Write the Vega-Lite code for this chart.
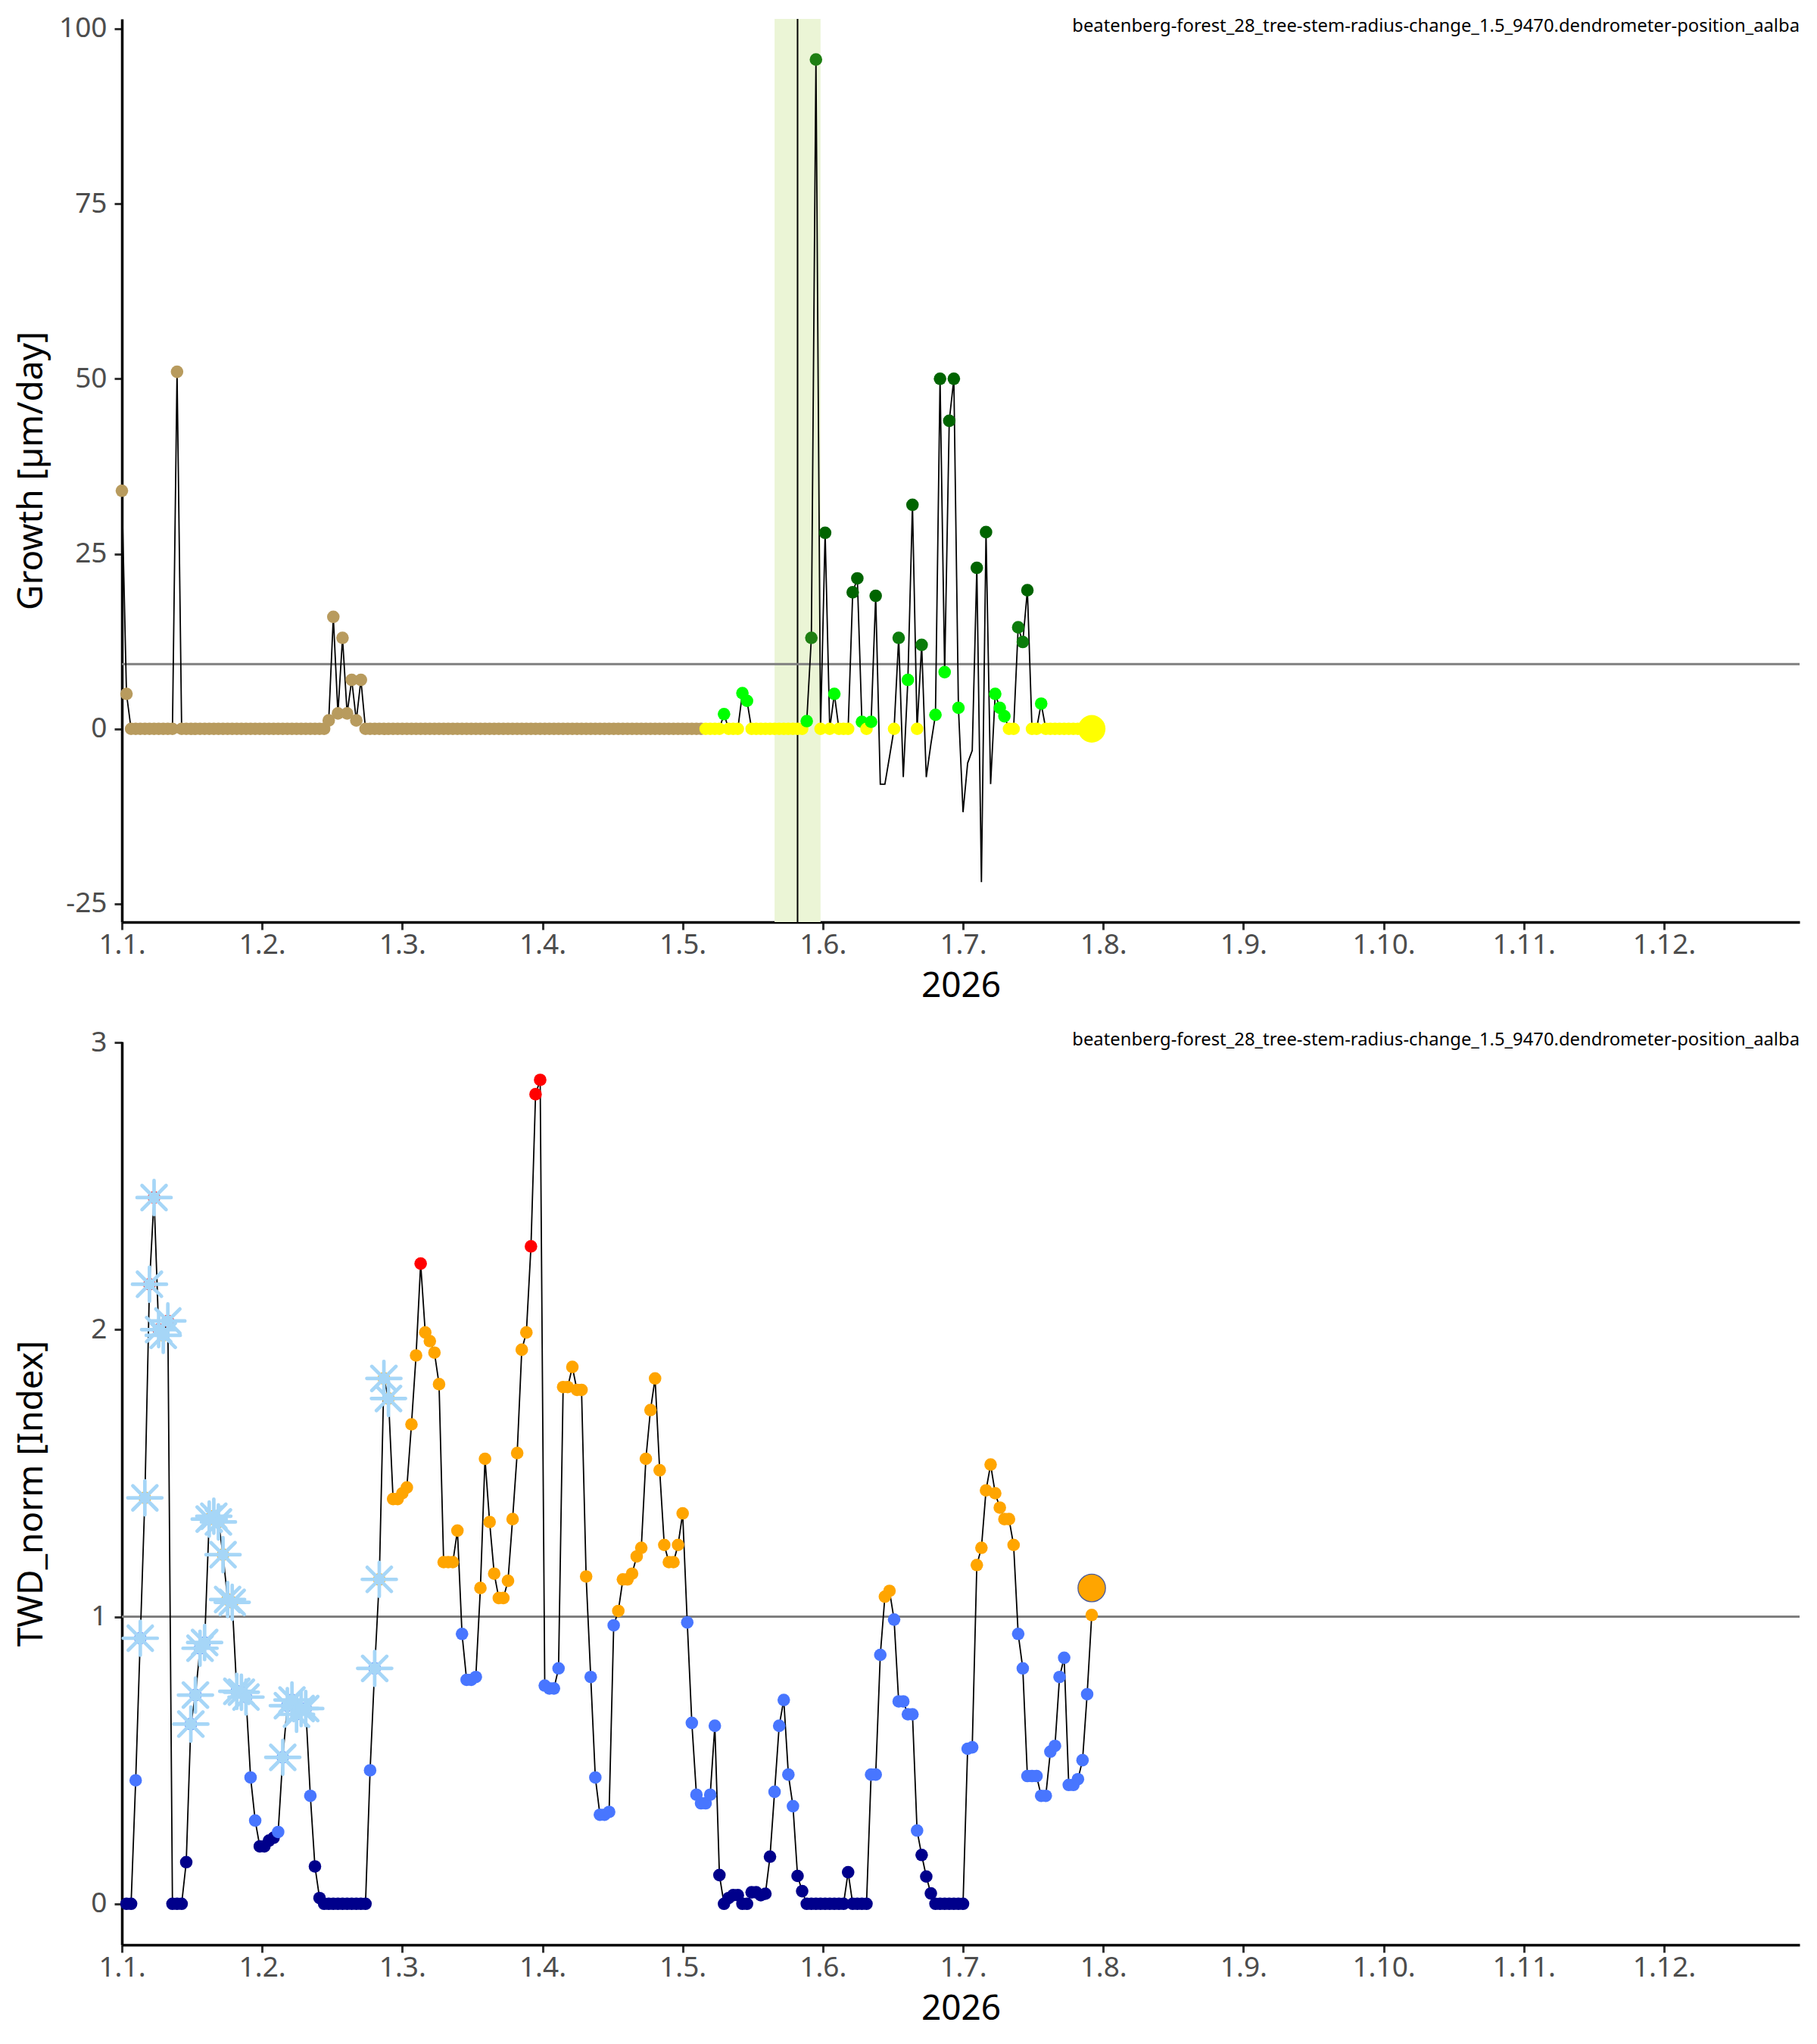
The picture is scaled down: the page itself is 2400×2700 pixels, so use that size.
{
  "$schema": "https://vega.github.io/schema/vega-lite/v6.json",
  "background": "white",
  "padding": {"left": 18, "right": 23, "top": 18, "bottom": 8},
  "spacing": 33,
  "config": {
    "font": "Noto Sans",
    "view": {"stroke": null},
    "axis": {
      "grid": false,
      "domainColor": "black",
      "domainWidth": 3.5,
      "tickColor": "#333333",
      "tickWidth": 3,
      "tickSize": 10,
      "labelColor": "#4d4d4d",
      "labelFont": "Noto Sans",
      "labelFontSize": 37,
      "labelPadding": 6,
      "labelFlush": false,
      "titleFont": "Noto Sans",
      "titleFontSize": 46,
      "titleFontWeight": "normal",
      "titleColor": "black"
    },
    "axisX": {"labelPadding": 2, "titlePadding": 14},
    "axisY": {"labelPadding": 10, "titleX": -106, "titleBaseline": "alphabetic", "labelExpr": "'' + datum.value"},
    "title": {"font": "Noto Sans", "fontSize": 23.8, "fontWeight": "normal", "color": "black", "anchor": "end", "frame": "group", "offset": -28}
  },
  "datasets": {
    "growth": [
      {"date": "2026-01-01", "growth": 34, "phase": "dormant"},
      {"date": "2026-01-02", "growth": 5, "phase": "dormant"},
      {"date": "2026-01-03", "growth": 0, "phase": "dormant"},
      {"date": "2026-01-04", "growth": 0, "phase": "dormant"},
      {"date": "2026-01-05", "growth": 0, "phase": "dormant"},
      {"date": "2026-01-06", "growth": 0, "phase": "dormant"},
      {"date": "2026-01-07", "growth": 0, "phase": "dormant"},
      {"date": "2026-01-08", "growth": 0, "phase": "dormant"},
      {"date": "2026-01-09", "growth": 0, "phase": "dormant"},
      {"date": "2026-01-10", "growth": 0, "phase": "dormant"},
      {"date": "2026-01-11", "growth": 0, "phase": "dormant"},
      {"date": "2026-01-12", "growth": 0, "phase": "dormant"},
      {"date": "2026-01-13", "growth": 51, "phase": "dormant"},
      {"date": "2026-01-14", "growth": 0, "phase": "dormant"},
      {"date": "2026-01-15", "growth": 0, "phase": "dormant"},
      {"date": "2026-01-16", "growth": 0, "phase": "dormant"},
      {"date": "2026-01-17", "growth": 0, "phase": "dormant"},
      {"date": "2026-01-18", "growth": 0, "phase": "dormant"},
      {"date": "2026-01-19", "growth": 0, "phase": "dormant"},
      {"date": "2026-01-20", "growth": 0, "phase": "dormant"},
      {"date": "2026-01-21", "growth": 0, "phase": "dormant"},
      {"date": "2026-01-22", "growth": 0, "phase": "dormant"},
      {"date": "2026-01-23", "growth": 0, "phase": "dormant"},
      {"date": "2026-01-24", "growth": 0, "phase": "dormant"},
      {"date": "2026-01-25", "growth": 0, "phase": "dormant"},
      {"date": "2026-01-26", "growth": 0, "phase": "dormant"},
      {"date": "2026-01-27", "growth": 0, "phase": "dormant"},
      {"date": "2026-01-28", "growth": 0, "phase": "dormant"},
      {"date": "2026-01-29", "growth": 0, "phase": "dormant"},
      {"date": "2026-01-30", "growth": 0, "phase": "dormant"},
      {"date": "2026-01-31", "growth": 0, "phase": "dormant"},
      {"date": "2026-02-01", "growth": 0, "phase": "dormant"},
      {"date": "2026-02-02", "growth": 0, "phase": "dormant"},
      {"date": "2026-02-03", "growth": 0, "phase": "dormant"},
      {"date": "2026-02-04", "growth": 0, "phase": "dormant"},
      {"date": "2026-02-05", "growth": 0, "phase": "dormant"},
      {"date": "2026-02-06", "growth": 0, "phase": "dormant"},
      {"date": "2026-02-07", "growth": 0, "phase": "dormant"},
      {"date": "2026-02-08", "growth": 0, "phase": "dormant"},
      {"date": "2026-02-09", "growth": 0, "phase": "dormant"},
      {"date": "2026-02-10", "growth": 0, "phase": "dormant"},
      {"date": "2026-02-11", "growth": 0, "phase": "dormant"},
      {"date": "2026-02-12", "growth": 0, "phase": "dormant"},
      {"date": "2026-02-13", "growth": 0, "phase": "dormant"},
      {"date": "2026-02-14", "growth": 0, "phase": "dormant"},
      {"date": "2026-02-15", "growth": 1.2, "phase": "dormant"},
      {"date": "2026-02-16", "growth": 16, "phase": "dormant"},
      {"date": "2026-02-17", "growth": 2.2, "phase": "dormant"},
      {"date": "2026-02-18", "growth": 13, "phase": "dormant"},
      {"date": "2026-02-19", "growth": 2.2, "phase": "dormant"},
      {"date": "2026-02-20", "growth": 7, "phase": "dormant"},
      {"date": "2026-02-21", "growth": 1.2, "phase": "dormant"},
      {"date": "2026-02-22", "growth": 7, "phase": "dormant"},
      {"date": "2026-02-23", "growth": 0, "phase": "dormant"},
      {"date": "2026-02-24", "growth": 0, "phase": "dormant"},
      {"date": "2026-02-25", "growth": 0, "phase": "dormant"},
      {"date": "2026-02-26", "growth": 0, "phase": "dormant"},
      {"date": "2026-02-27", "growth": 0, "phase": "dormant"},
      {"date": "2026-02-28", "growth": 0, "phase": "dormant"},
      {"date": "2026-03-01", "growth": 0, "phase": "dormant"},
      {"date": "2026-03-02", "growth": 0, "phase": "dormant"},
      {"date": "2026-03-03", "growth": 0, "phase": "dormant"},
      {"date": "2026-03-04", "growth": 0, "phase": "dormant"},
      {"date": "2026-03-05", "growth": 0, "phase": "dormant"},
      {"date": "2026-03-06", "growth": 0, "phase": "dormant"},
      {"date": "2026-03-07", "growth": 0, "phase": "dormant"},
      {"date": "2026-03-08", "growth": 0, "phase": "dormant"},
      {"date": "2026-03-09", "growth": 0, "phase": "dormant"},
      {"date": "2026-03-10", "growth": 0, "phase": "dormant"},
      {"date": "2026-03-11", "growth": 0, "phase": "dormant"},
      {"date": "2026-03-12", "growth": 0, "phase": "dormant"},
      {"date": "2026-03-13", "growth": 0, "phase": "dormant"},
      {"date": "2026-03-14", "growth": 0, "phase": "dormant"},
      {"date": "2026-03-15", "growth": 0, "phase": "dormant"},
      {"date": "2026-03-16", "growth": 0, "phase": "dormant"},
      {"date": "2026-03-17", "growth": 0, "phase": "dormant"},
      {"date": "2026-03-18", "growth": 0, "phase": "dormant"},
      {"date": "2026-03-19", "growth": 0, "phase": "dormant"},
      {"date": "2026-03-20", "growth": 0, "phase": "dormant"},
      {"date": "2026-03-21", "growth": 0, "phase": "dormant"},
      {"date": "2026-03-22", "growth": 0, "phase": "dormant"},
      {"date": "2026-03-23", "growth": 0, "phase": "dormant"},
      {"date": "2026-03-24", "growth": 0, "phase": "dormant"},
      {"date": "2026-03-25", "growth": 0, "phase": "dormant"},
      {"date": "2026-03-26", "growth": 0, "phase": "dormant"},
      {"date": "2026-03-27", "growth": 0, "phase": "dormant"},
      {"date": "2026-03-28", "growth": 0, "phase": "dormant"},
      {"date": "2026-03-29", "growth": 0, "phase": "dormant"},
      {"date": "2026-03-30", "growth": 0, "phase": "dormant"},
      {"date": "2026-03-31", "growth": 0, "phase": "dormant"},
      {"date": "2026-04-01", "growth": 0, "phase": "dormant"},
      {"date": "2026-04-02", "growth": 0, "phase": "dormant"},
      {"date": "2026-04-03", "growth": 0, "phase": "dormant"},
      {"date": "2026-04-04", "growth": 0, "phase": "dormant"},
      {"date": "2026-04-05", "growth": 0, "phase": "dormant"},
      {"date": "2026-04-06", "growth": 0, "phase": "dormant"},
      {"date": "2026-04-07", "growth": 0, "phase": "dormant"},
      {"date": "2026-04-08", "growth": 0, "phase": "dormant"},
      {"date": "2026-04-09", "growth": 0, "phase": "dormant"},
      {"date": "2026-04-10", "growth": 0, "phase": "dormant"},
      {"date": "2026-04-11", "growth": 0, "phase": "dormant"},
      {"date": "2026-04-12", "growth": 0, "phase": "dormant"},
      {"date": "2026-04-13", "growth": 0, "phase": "dormant"},
      {"date": "2026-04-14", "growth": 0, "phase": "dormant"},
      {"date": "2026-04-15", "growth": 0, "phase": "dormant"},
      {"date": "2026-04-16", "growth": 0, "phase": "dormant"},
      {"date": "2026-04-17", "growth": 0, "phase": "dormant"},
      {"date": "2026-04-18", "growth": 0, "phase": "dormant"},
      {"date": "2026-04-19", "growth": 0, "phase": "dormant"},
      {"date": "2026-04-20", "growth": 0, "phase": "dormant"},
      {"date": "2026-04-21", "growth": 0, "phase": "dormant"},
      {"date": "2026-04-22", "growth": 0, "phase": "dormant"},
      {"date": "2026-04-23", "growth": 0, "phase": "dormant"},
      {"date": "2026-04-24", "growth": 0, "phase": "dormant"},
      {"date": "2026-04-25", "growth": 0, "phase": "dormant"},
      {"date": "2026-04-26", "growth": 0, "phase": "dormant"},
      {"date": "2026-04-27", "growth": 0, "phase": "dormant"},
      {"date": "2026-04-28", "growth": 0, "phase": "dormant"},
      {"date": "2026-04-29", "growth": 0, "phase": "dormant"},
      {"date": "2026-04-30", "growth": 0, "phase": "dormant"},
      {"date": "2026-05-01", "growth": 0, "phase": "dormant"},
      {"date": "2026-05-02", "growth": 0, "phase": "dormant"},
      {"date": "2026-05-03", "growth": 0, "phase": "dormant"},
      {"date": "2026-05-04", "growth": 0, "phase": "dormant"},
      {"date": "2026-05-05", "growth": 0, "phase": "dormant"},
      {"date": "2026-05-06", "growth": 0, "phase": "dormant"},
      {"date": "2026-05-07", "growth": 0, "phase": "dormant"},
      {"date": "2026-05-08", "growth": 0, "phase": "none"},
      {"date": "2026-05-09", "growth": 0, "phase": "none"},
      {"date": "2026-05-10", "growth": 0, "phase": "none"},
      {"date": "2026-05-11", "growth": 0, "phase": "none"},
      {"date": "2026-05-12", "growth": 2.1, "phase": "low"},
      {"date": "2026-05-13", "growth": 0, "phase": "none"},
      {"date": "2026-05-14", "growth": 0, "phase": "none"},
      {"date": "2026-05-15", "growth": 0, "phase": "none"},
      {"date": "2026-05-16", "growth": 5.1, "phase": "low"},
      {"date": "2026-05-17", "growth": 4.0, "phase": "low"},
      {"date": "2026-05-18", "growth": 0, "phase": "none"},
      {"date": "2026-05-19", "growth": 0, "phase": "none"},
      {"date": "2026-05-20", "growth": 0, "phase": "none"},
      {"date": "2026-05-21", "growth": 0, "phase": "none"},
      {"date": "2026-05-22", "growth": 0, "phase": "none"},
      {"date": "2026-05-23", "growth": 0, "phase": "none"},
      {"date": "2026-05-24", "growth": 0, "phase": "none"},
      {"date": "2026-05-25", "growth": 0, "phase": "none"},
      {"date": "2026-05-26", "growth": 0, "phase": "none"},
      {"date": "2026-05-27", "growth": 0, "phase": "none"},
      {"date": "2026-05-28", "growth": 0, "phase": "none"},
      {"date": "2026-05-29", "growth": 0, "phase": "none"},
      {"date": "2026-05-30", "growth": 1.1, "phase": "low"},
      {"date": "2026-05-31", "growth": 13.0, "phase": "peak"},
      {"date": "2026-06-01", "growth": 95.6, "phase": "peak"},
      {"date": "2026-06-02", "growth": 0, "phase": "none"},
      {"date": "2026-06-03", "growth": 28, "phase": "high"},
      {"date": "2026-06-04", "growth": 0, "phase": "none"},
      {"date": "2026-06-05", "growth": 5.0, "phase": "low"},
      {"date": "2026-06-06", "growth": 0, "phase": "none"},
      {"date": "2026-06-07", "growth": 0, "phase": "none"},
      {"date": "2026-06-08", "growth": 0, "phase": "none"},
      {"date": "2026-06-09", "growth": 19.5, "phase": "high"},
      {"date": "2026-06-10", "growth": 21.5, "phase": "high"},
      {"date": "2026-06-11", "growth": 1.0, "phase": "low"},
      {"date": "2026-06-12", "growth": 0, "phase": "none"},
      {"date": "2026-06-13", "growth": 1.0, "phase": "low"},
      {"date": "2026-06-14", "growth": 19.0, "phase": "high"},
      {"date": "2026-06-15", "growth": -7.9, "phase": "shrink"},
      {"date": "2026-06-16", "growth": -7.9, "phase": "shrink"},
      {"date": "2026-06-17", "growth": -4.0, "phase": "shrink"},
      {"date": "2026-06-18", "growth": 0, "phase": "none"},
      {"date": "2026-06-19", "growth": 13.0, "phase": "mid"},
      {"date": "2026-06-20", "growth": -6.9, "phase": "shrink"},
      {"date": "2026-06-21", "growth": 7.0, "phase": "low"},
      {"date": "2026-06-22", "growth": 32.0, "phase": "high"},
      {"date": "2026-06-23", "growth": 0, "phase": "none"},
      {"date": "2026-06-24", "growth": 12.0, "phase": "mid"},
      {"date": "2026-06-25", "growth": -6.9, "phase": "shrink"},
      {"date": "2026-06-26", "growth": -2.2, "phase": "shrink"},
      {"date": "2026-06-27", "growth": 2.0, "phase": "low"},
      {"date": "2026-06-28", "growth": 50, "phase": "high"},
      {"date": "2026-06-29", "growth": 8.1, "phase": "low"},
      {"date": "2026-06-30", "growth": 44, "phase": "high"},
      {"date": "2026-07-01", "growth": 50, "phase": "high"},
      {"date": "2026-07-02", "growth": 3.0, "phase": "low"},
      {"date": "2026-07-03", "growth": -11.9, "phase": "shrink"},
      {"date": "2026-07-04", "growth": -4.9, "phase": "shrink"},
      {"date": "2026-07-05", "growth": -3.1, "phase": "shrink"},
      {"date": "2026-07-06", "growth": 23, "phase": "high"},
      {"date": "2026-07-07", "growth": -21.9, "phase": "shrink"},
      {"date": "2026-07-08", "growth": 28.1, "phase": "high"},
      {"date": "2026-07-09", "growth": -7.9, "phase": "shrink"},
      {"date": "2026-07-10", "growth": 5.0, "phase": "low"},
      {"date": "2026-07-11", "growth": 3.0, "phase": "low"},
      {"date": "2026-07-12", "growth": 1.8, "phase": "low"},
      {"date": "2026-07-13", "growth": 0, "phase": "none"},
      {"date": "2026-07-14", "growth": 0, "phase": "none"},
      {"date": "2026-07-15", "growth": 14.5, "phase": "mid"},
      {"date": "2026-07-16", "growth": 12.4, "phase": "mid"},
      {"date": "2026-07-17", "growth": 19.8, "phase": "high"},
      {"date": "2026-07-18", "growth": 0, "phase": "none"},
      {"date": "2026-07-19", "growth": 0, "phase": "none"},
      {"date": "2026-07-20", "growth": 3.6, "phase": "low"},
      {"date": "2026-07-21", "growth": 0, "phase": "none"},
      {"date": "2026-07-22", "growth": 0, "phase": "none"},
      {"date": "2026-07-23", "growth": 0, "phase": "none"},
      {"date": "2026-07-24", "growth": 0, "phase": "none"},
      {"date": "2026-07-25", "growth": 0, "phase": "none"},
      {"date": "2026-07-26", "growth": 0, "phase": "none"},
      {"date": "2026-07-27", "growth": 0, "phase": "none"},
      {"date": "2026-07-28", "growth": 0, "phase": "none"},
      {"date": "2026-07-29", "growth": 0, "phase": "none"},
      {"date": "2026-07-30", "growth": 0, "phase": "none"},
      {"date": "2026-07-31", "growth": 0, "phase": "none"}
    ],
    "twd": [
      {"date": "2026-01-02", "twd": 0},
      {"date": "2026-01-03", "twd": 0},
      {"date": "2026-01-04", "twd": 0.43},
      {"date": "2026-01-05", "twd": 0.925, "frost": true},
      {"date": "2026-01-06", "twd": 1.414, "frost": true},
      {"date": "2026-01-07", "twd": 2.158, "frost": true},
      {"date": "2026-01-08", "twd": 2.46, "frost": true},
      {"date": "2026-01-09", "twd": 2.0, "frost": true},
      {"date": "2026-01-10", "twd": 1.98, "frost": true},
      {"date": "2026-01-11", "twd": 2.03, "frost": true},
      {"date": "2026-01-12", "twd": 0},
      {"date": "2026-01-13", "twd": 0},
      {"date": "2026-01-14", "twd": 0},
      {"date": "2026-01-15", "twd": 0.145},
      {"date": "2026-01-16", "twd": 0.626, "frost": true},
      {"date": "2026-01-17", "twd": 0.727, "frost": true},
      {"date": "2026-01-18", "twd": 0.89, "frost": true},
      {"date": "2026-01-19", "twd": 0.91, "frost": true},
      {"date": "2026-01-20", "twd": 1.34, "frost": true},
      {"date": "2026-01-21", "twd": 1.35, "frost": true},
      {"date": "2026-01-22", "twd": 1.33, "frost": true},
      {"date": "2026-01-23", "twd": 1.216, "frost": true},
      {"date": "2026-01-24", "twd": 1.06, "frost": true},
      {"date": "2026-01-25", "twd": 1.05, "frost": true},
      {"date": "2026-01-26", "twd": 0.74, "frost": true},
      {"date": "2026-01-27", "twd": 0.737, "frost": true},
      {"date": "2026-01-28", "twd": 0.72, "frost": true},
      {"date": "2026-01-29", "twd": 0.44},
      {"date": "2026-01-30", "twd": 0.29},
      {"date": "2026-01-31", "twd": 0.2},
      {"date": "2026-02-01", "twd": 0.2},
      {"date": "2026-02-02", "twd": 0.22},
      {"date": "2026-02-03", "twd": 0.23},
      {"date": "2026-02-04", "twd": 0.25},
      {"date": "2026-02-05", "twd": 0.51, "frost": true},
      {"date": "2026-02-06", "twd": 0.69, "frost": true},
      {"date": "2026-02-07", "twd": 0.71, "frost": true},
      {"date": "2026-02-08", "twd": 0.66, "frost": true},
      {"date": "2026-02-09", "twd": 0.68, "frost": true},
      {"date": "2026-02-10", "twd": 0.68, "frost": true},
      {"date": "2026-02-11", "twd": 0.376},
      {"date": "2026-02-12", "twd": 0.13},
      {"date": "2026-02-13", "twd": 0.02},
      {"date": "2026-02-14", "twd": 0},
      {"date": "2026-02-15", "twd": 0},
      {"date": "2026-02-16", "twd": 0},
      {"date": "2026-02-17", "twd": 0},
      {"date": "2026-02-18", "twd": 0},
      {"date": "2026-02-19", "twd": 0},
      {"date": "2026-02-20", "twd": 0},
      {"date": "2026-02-21", "twd": 0},
      {"date": "2026-02-22", "twd": 0},
      {"date": "2026-02-23", "twd": 0},
      {"date": "2026-02-24", "twd": 0.465},
      {"date": "2026-02-25", "twd": 0.82, "frost": true},
      {"date": "2026-02-26", "twd": 1.13, "frost": true},
      {"date": "2026-02-27", "twd": 1.83, "frost": true},
      {"date": "2026-02-28", "twd": 1.76, "frost": true},
      {"date": "2026-03-01", "twd": 1.41},
      {"date": "2026-03-02", "twd": 1.41},
      {"date": "2026-03-03", "twd": 1.43},
      {"date": "2026-03-04", "twd": 1.45},
      {"date": "2026-03-05", "twd": 1.67},
      {"date": "2026-03-06", "twd": 1.91},
      {"date": "2026-03-07", "twd": 2.23},
      {"date": "2026-03-08", "twd": 1.99},
      {"date": "2026-03-09", "twd": 1.96},
      {"date": "2026-03-10", "twd": 1.92},
      {"date": "2026-03-11", "twd": 1.81},
      {"date": "2026-03-12", "twd": 1.19},
      {"date": "2026-03-13", "twd": 1.19},
      {"date": "2026-03-14", "twd": 1.19},
      {"date": "2026-03-15", "twd": 1.30},
      {"date": "2026-03-16", "twd": 0.94},
      {"date": "2026-03-17", "twd": 0.78},
      {"date": "2026-03-18", "twd": 0.78},
      {"date": "2026-03-19", "twd": 0.79},
      {"date": "2026-03-20", "twd": 1.10},
      {"date": "2026-03-21", "twd": 1.55},
      {"date": "2026-03-22", "twd": 1.33},
      {"date": "2026-03-23", "twd": 1.15},
      {"date": "2026-03-24", "twd": 1.065},
      {"date": "2026-03-25", "twd": 1.065},
      {"date": "2026-03-26", "twd": 1.125},
      {"date": "2026-03-27", "twd": 1.34},
      {"date": "2026-03-28", "twd": 1.57},
      {"date": "2026-03-29", "twd": 1.93},
      {"date": "2026-03-30", "twd": 1.99},
      {"date": "2026-03-31", "twd": 2.29},
      {"date": "2026-04-01", "twd": 2.82},
      {"date": "2026-04-02", "twd": 2.87},
      {"date": "2026-04-03", "twd": 0.76},
      {"date": "2026-04-04", "twd": 0.75},
      {"date": "2026-04-05", "twd": 0.75},
      {"date": "2026-04-06", "twd": 0.82},
      {"date": "2026-04-07", "twd": 1.80},
      {"date": "2026-04-08", "twd": 1.80},
      {"date": "2026-04-09", "twd": 1.87},
      {"date": "2026-04-10", "twd": 1.79},
      {"date": "2026-04-11", "twd": 1.79},
      {"date": "2026-04-12", "twd": 1.14},
      {"date": "2026-04-13", "twd": 0.79},
      {"date": "2026-04-14", "twd": 0.44},
      {"date": "2026-04-15", "twd": 0.31},
      {"date": "2026-04-16", "twd": 0.31},
      {"date": "2026-04-17", "twd": 0.32},
      {"date": "2026-04-18", "twd": 0.97},
      {"date": "2026-04-19", "twd": 1.02},
      {"date": "2026-04-20", "twd": 1.13},
      {"date": "2026-04-21", "twd": 1.13},
      {"date": "2026-04-22", "twd": 1.15},
      {"date": "2026-04-23", "twd": 1.21},
      {"date": "2026-04-24", "twd": 1.24},
      {"date": "2026-04-25", "twd": 1.55},
      {"date": "2026-04-26", "twd": 1.72},
      {"date": "2026-04-27", "twd": 1.83},
      {"date": "2026-04-28", "twd": 1.51},
      {"date": "2026-04-29", "twd": 1.25},
      {"date": "2026-04-30", "twd": 1.19},
      {"date": "2026-05-01", "twd": 1.19},
      {"date": "2026-05-02", "twd": 1.25},
      {"date": "2026-05-03", "twd": 1.36},
      {"date": "2026-05-04", "twd": 0.98},
      {"date": "2026-05-05", "twd": 0.63},
      {"date": "2026-05-06", "twd": 0.38},
      {"date": "2026-05-07", "twd": 0.35},
      {"date": "2026-05-08", "twd": 0.35},
      {"date": "2026-05-09", "twd": 0.38},
      {"date": "2026-05-10", "twd": 0.62},
      {"date": "2026-05-11", "twd": 0.10},
      {"date": "2026-05-12", "twd": 0},
      {"date": "2026-05-13", "twd": 0.02},
      {"date": "2026-05-14", "twd": 0.03},
      {"date": "2026-05-15", "twd": 0.03},
      {"date": "2026-05-16", "twd": 0},
      {"date": "2026-05-17", "twd": 0},
      {"date": "2026-05-18", "twd": 0.04},
      {"date": "2026-05-19", "twd": 0.04},
      {"date": "2026-05-20", "twd": 0.03},
      {"date": "2026-05-21", "twd": 0.035},
      {"date": "2026-05-22", "twd": 0.164},
      {"date": "2026-05-23", "twd": 0.39},
      {"date": "2026-05-24", "twd": 0.62},
      {"date": "2026-05-25", "twd": 0.71},
      {"date": "2026-05-26", "twd": 0.45},
      {"date": "2026-05-27", "twd": 0.34},
      {"date": "2026-05-28", "twd": 0.097},
      {"date": "2026-05-29", "twd": 0.044},
      {"date": "2026-05-30", "twd": 0},
      {"date": "2026-05-31", "twd": 0},
      {"date": "2026-06-01", "twd": 0},
      {"date": "2026-06-02", "twd": 0},
      {"date": "2026-06-03", "twd": 0},
      {"date": "2026-06-04", "twd": 0},
      {"date": "2026-06-05", "twd": 0},
      {"date": "2026-06-06", "twd": 0},
      {"date": "2026-06-07", "twd": 0},
      {"date": "2026-06-08", "twd": 0.11},
      {"date": "2026-06-09", "twd": 0},
      {"date": "2026-06-10", "twd": 0},
      {"date": "2026-06-11", "twd": 0},
      {"date": "2026-06-12", "twd": 0},
      {"date": "2026-06-13", "twd": 0.45},
      {"date": "2026-06-14", "twd": 0.45},
      {"date": "2026-06-15", "twd": 0.867},
      {"date": "2026-06-16", "twd": 1.07},
      {"date": "2026-06-17", "twd": 1.09},
      {"date": "2026-06-18", "twd": 0.99},
      {"date": "2026-06-19", "twd": 0.705},
      {"date": "2026-06-20", "twd": 0.705},
      {"date": "2026-06-21", "twd": 0.66},
      {"date": "2026-06-22", "twd": 0.66},
      {"date": "2026-06-23", "twd": 0.255},
      {"date": "2026-06-24", "twd": 0.17},
      {"date": "2026-06-25", "twd": 0.095},
      {"date": "2026-06-26", "twd": 0.036},
      {"date": "2026-06-27", "twd": 0},
      {"date": "2026-06-28", "twd": 0},
      {"date": "2026-06-29", "twd": 0},
      {"date": "2026-06-30", "twd": 0},
      {"date": "2026-07-01", "twd": 0},
      {"date": "2026-07-02", "twd": 0},
      {"date": "2026-07-03", "twd": 0},
      {"date": "2026-07-04", "twd": 0.54},
      {"date": "2026-07-05", "twd": 0.545},
      {"date": "2026-07-06", "twd": 1.18},
      {"date": "2026-07-07", "twd": 1.24},
      {"date": "2026-07-08", "twd": 1.44},
      {"date": "2026-07-09", "twd": 1.53},
      {"date": "2026-07-10", "twd": 1.43},
      {"date": "2026-07-11", "twd": 1.38},
      {"date": "2026-07-12", "twd": 1.34},
      {"date": "2026-07-13", "twd": 1.34},
      {"date": "2026-07-14", "twd": 1.25},
      {"date": "2026-07-15", "twd": 0.94},
      {"date": "2026-07-16", "twd": 0.82},
      {"date": "2026-07-17", "twd": 0.445},
      {"date": "2026-07-18", "twd": 0.445},
      {"date": "2026-07-19", "twd": 0.445},
      {"date": "2026-07-20", "twd": 0.376},
      {"date": "2026-07-21", "twd": 0.376},
      {"date": "2026-07-22", "twd": 0.53},
      {"date": "2026-07-23", "twd": 0.55},
      {"date": "2026-07-24", "twd": 0.79},
      {"date": "2026-07-25", "twd": 0.857},
      {"date": "2026-07-26", "twd": 0.414},
      {"date": "2026-07-27", "twd": 0.414},
      {"date": "2026-07-28", "twd": 0.434},
      {"date": "2026-07-29", "twd": 0.50},
      {"date": "2026-07-30", "twd": 0.73},
      {"date": "2026-07-31", "twd": 1.006}
    ]
  },
  "vconcat": [
    {
      "title": {"text": "beatenberg-forest_28_tree-stem-radius-change_1.5_9470.dendrometer-position_aalba"},
      "width": 2216,
      "height": 1193,
      "layer": [
        {
          "data": {"values": [{"start": "2026-05-23", "mid": "2026-05-28", "end": "2026-06-02"}]},
          "mark": {"type": "rect", "color": "#EBF5D6"},
          "encoding": {
            "x": {"field": "start", "type": "temporal", "title": "2026", "scale": {"type": "utc", "domain": [{"year": 2026, "month": 1, "date": 1, "utc": true}, {"year": 2027, "month": 1, "date": 1, "utc": true}]}},
            "x2": {"field": "end"}
          }
        },
        {
          "data": {"values": [{"start": "2026-05-23", "mid": "2026-05-28", "end": "2026-06-02"}]},
          "mark": {"type": "rule", "color": "black", "strokeWidth": 2},
          "encoding": {
            "x": {"field": "mid", "type": "temporal", "title": "2026", "scale": {"type": "utc", "domain": [{"year": 2026, "month": 1, "date": 1, "utc": true}, {"year": 2027, "month": 1, "date": 1, "utc": true}]}}
          }
        },
        {
          "data": {"values": [{"level": 9.25}]},
          "mark": {"type": "rule", "color": "#7f7f7f", "strokeWidth": 3},
          "encoding": {
            "y": {"field": "level", "type": "quantitative", "title": "Growth [µm/day]", "scale": {"domain": [-27.6, 101.4], "nice": false, "zero": false}}
          }
        },
        {
          "data": {"name": "growth"},
          "mark": {"type": "line", "color": "black", "strokeWidth": 1.8},
          "encoding": {
            "x": {
              "field": "date", "type": "temporal", "title": "2026",
              "scale": {"type": "utc", "domain": [{"year": 2026, "month": 1, "date": 1, "utc": true}, {"year": 2027, "month": 1, "date": 1, "utc": true}]},
              "axis": {
                "values": [
                  {"year": 2026, "month": 1, "date": 1, "utc": true},
                  {"year": 2026, "month": 1, "date": 31, "hours": 12, "utc": true},
                  {"year": 2026, "month": 3, "date": 3, "utc": true},
                  {"year": 2026, "month": 4, "date": 2, "hours": 12, "utc": true},
                  {"year": 2026, "month": 5, "date": 3, "utc": true},
                  {"year": 2026, "month": 6, "date": 2, "hours": 12, "utc": true},
                  {"year": 2026, "month": 7, "date": 3, "utc": true},
                  {"year": 2026, "month": 8, "date": 2, "hours": 12, "utc": true},
                  {"year": 2026, "month": 9, "date": 2, "utc": true},
                  {"year": 2026, "month": 10, "date": 2, "hours": 12, "utc": true},
                  {"year": 2026, "month": 11, "date": 2, "utc": true},
                  {"year": 2026, "month": 12, "date": 2, "hours": 12, "utc": true}
                ],
                "labelExpr": "'1.' + (round((datum.value - utc(2026, 0, 1)) / 2635200000) + 1) + '.'"
              }
            },
            "y": {
              "field": "growth", "type": "quantitative", "title": "Growth [µm/day]",
              "scale": {"domain": [-27.6, 101.4], "nice": false, "zero": false},
              "axis": {"values": [-25, 0, 25, 50, 75, 100]}
            }
          }
        },
        {
          "data": {"name": "growth"},
          "transform": [{"filter": "datum.growth >= 0"}],
          "mark": {"type": "circle", "size": 275, "opacity": 1},
          "encoding": {
            "x": {"field": "date", "type": "temporal", "title": "2026"},
            "y": {"field": "growth", "type": "quantitative", "title": "Growth [µm/day]"},
            "color": {
              "field": "phase", "type": "nominal", "legend": null,
              "scale": {
                "domain": ["dormant", "none", "low", "mid", "peak", "high", "shrink"],
                "range": ["#B89B5E", "#FFFF00", "#00FF00", "#0C7C0C", "#1E7F12", "#006400", "#999999"]
              }
            }
          }
        },
        {
          "data": {"values": [{"date": "2026-07-31", "growth": 0}]},
          "mark": {"type": "circle", "size": 1320, "opacity": 1, "color": "#FFFF00"},
          "encoding": {
            "x": {"field": "date", "type": "temporal", "title": "2026"},
            "y": {"field": "growth", "type": "quantitative", "title": "Growth [µm/day]"}
          }
        }
      ]
    },
    {
      "title": {"text": "beatenberg-forest_28_tree-stem-radius-change_1.5_9470.dendrometer-position_aalba"},
      "width": 2216,
      "height": 1193,
      "layer": [
        {
          "data": {"values": [{"level": 1}]},
          "mark": {"type": "rule", "color": "#7f7f7f", "strokeWidth": 3},
          "encoding": {
            "y": {"field": "level", "type": "quantitative", "title": "TWD_norm [Index]", "scale": {"domain": [-0.143, 3.003], "nice": false, "zero": false}}
          }
        },
        {
          "data": {"name": "twd"},
          "mark": {"type": "line", "color": "black", "strokeWidth": 1.8},
          "encoding": {
            "x": {
              "field": "date", "type": "temporal", "title": "2026",
              "scale": {"type": "utc", "domain": [{"year": 2026, "month": 1, "date": 1, "utc": true}, {"year": 2027, "month": 1, "date": 1, "utc": true}]},
              "axis": {
                "values": [
                  {"year": 2026, "month": 1, "date": 1, "utc": true},
                  {"year": 2026, "month": 1, "date": 31, "hours": 12, "utc": true},
                  {"year": 2026, "month": 3, "date": 3, "utc": true},
                  {"year": 2026, "month": 4, "date": 2, "hours": 12, "utc": true},
                  {"year": 2026, "month": 5, "date": 3, "utc": true},
                  {"year": 2026, "month": 6, "date": 2, "hours": 12, "utc": true},
                  {"year": 2026, "month": 7, "date": 3, "utc": true},
                  {"year": 2026, "month": 8, "date": 2, "hours": 12, "utc": true},
                  {"year": 2026, "month": 9, "date": 2, "utc": true},
                  {"year": 2026, "month": 10, "date": 2, "hours": 12, "utc": true},
                  {"year": 2026, "month": 11, "date": 2, "utc": true},
                  {"year": 2026, "month": 12, "date": 2, "hours": 12, "utc": true}
                ],
                "labelExpr": "'1.' + (round((datum.value - utc(2026, 0, 1)) / 2635200000) + 1) + '.'"
              }
            },
            "y": {
              "field": "twd", "type": "quantitative", "title": "TWD_norm [Index]",
              "scale": {"domain": [-0.143, 3.003], "nice": false, "zero": false},
              "axis": {"values": [0, 1, 2, 3]}
            }
          }
        },
        {
          "data": {"name": "twd"},
          "mark": {"type": "circle", "size": 275, "opacity": 1},
          "encoding": {
            "x": {"field": "date", "type": "temporal", "title": "2026"},
            "y": {"field": "twd", "type": "quantitative", "title": "TWD_norm [Index]"},
            "color": {
              "field": "twd", "type": "quantitative", "legend": null,
              "scale": {"type": "threshold", "domain": [0.25, 1, 2], "range": ["#00008B", "#4876FF", "#FFA500", "#FF0000"]}
            }
          }
        },
        {
          "data": {"name": "twd"},
          "transform": [{"filter": "datum.frost"}],
          "mark": {"type": "point", "shape": "M0,-1L0,1M-1,0L1,0M-0.707,-0.707L0.707,0.707M-0.707,0.707L0.707,-0.707", "size": 2025, "filled": false, "opacity": 1, "stroke": "#A6D6F7", "strokeWidth": 4.7, "strokeCap": "round"},
          "encoding": {
            "x": {"field": "date", "type": "temporal", "title": "2026"},
            "y": {"field": "twd", "type": "quantitative", "title": "TWD_norm [Index]"}
          }
        },
        {
          "data": {"name": "twd"},
          "transform": [{"filter": "datum.frost"}],
          "mark": {"type": "circle", "size": 227, "opacity": 1, "color": "#A6D6F7"},
          "encoding": {
            "x": {"field": "date", "type": "temporal", "title": "2026"},
            "y": {"field": "twd", "type": "quantitative", "title": "TWD_norm [Index]"}
          }
        },
        {
          "data": {"values": [{"date": "2026-07-31", "twd": 1.10}]},
          "mark": {"type": "circle", "size": 1320, "opacity": 1, "fill": "#FFA500", "stroke": "#4A5A9A", "strokeWidth": 1.3},
          "encoding": {
            "x": {"field": "date", "type": "temporal", "title": "2026"},
            "y": {"field": "twd", "type": "quantitative", "title": "TWD_norm [Index]"}
          }
        }
      ]
    }
  ]
}
